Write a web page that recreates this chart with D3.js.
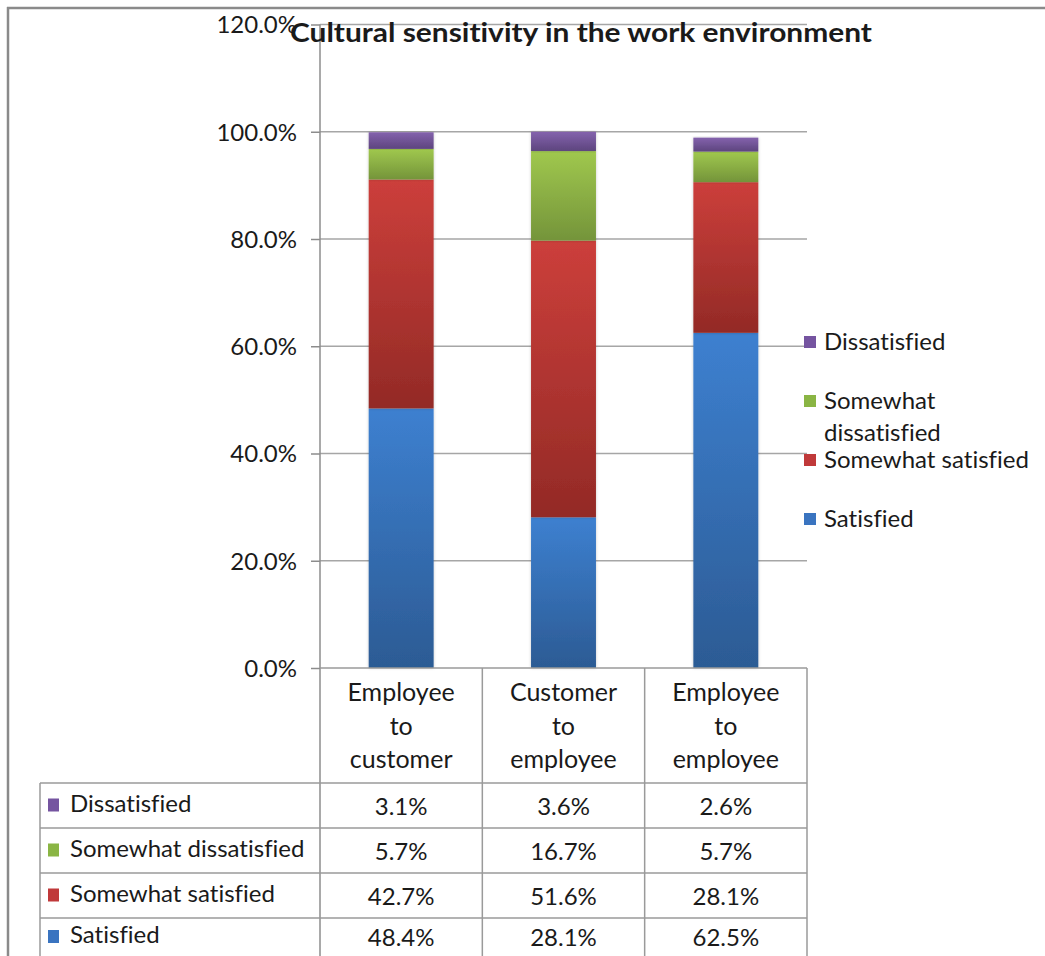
<!DOCTYPE html>
<html>
<head>
<meta charset="utf-8">
<script src="https://cdn.jsdelivr.net/npm/d3@7"></script>
<style>
  html, body { margin: 0; padding: 0; background: #fff; }
  svg { display: block; }
  text { font-family: Lato, "Open Sans", sans-serif; fill: #1a1a1a; font-variant-ligatures: none; }
</style>
</head>
<body>
<svg id="chart" width="1045" height="956"></svg>
<script>
// Survey data: share of responses per relationship
const categories = [
  ["Employee", "to", "customer"],
  ["Customer", "to", "employee"],
  ["Employee", "to", "employee"]
];
const categoryKeys = ["Employee to customer", "Customer to employee", "Employee to employee"];
const seriesNames = ["Satisfied", "Somewhat satisfied", "Somewhat dissatisfied", "Dissatisfied"];
const satisfied = [48.4, 28.1, 62.5];
const somewhatSatisfied = [42.7, 51.6, 28.1];
const somewhatDissatisfied = [5.7, 16.7, 5.7];
const dissatisfied = [3.1, 3.6, 2.6];
const yTicks = [0, 20, 40, 60, 80, 100, 120];

const seriesValues = [satisfied, somewhatSatisfied, somewhatDissatisfied, dissatisfied];
const colors = {
  "Satisfied": ["#3d80d0", "#2c5b94"],
  "Somewhat satisfied": ["#cc3f3b", "#932a26"],
  "Somewhat dissatisfied": ["#a0c84e", "#74943a"],
  "Dissatisfied": ["#8462ad", "#5d457e"]
};
const swatch = {
  "Satisfied": "#3a74c0",
  "Somewhat satisfied": "#c0393a",
  "Somewhat dissatisfied": "#8ab544",
  "Dissatisfied": "#7554a0"
};

const rows = categoryKeys.map((k, i) => {
  const r = { key: k };
  seriesNames.forEach((s, j) => r[s] = seriesValues[j][i]);
  return r;
});

const svg = d3.select("#chart");
const defs = svg.append("defs");
seriesNames.forEach((s, i) => {
  const g = defs.append("linearGradient")
    .attr("id", "grad" + i).attr("x1", 0).attr("y1", 0).attr("x2", 0).attr("y2", 1);
  g.append("stop").attr("offset", "0%").attr("stop-color", colors[s][0]);
  g.append("stop").attr("offset", "100%").attr("stop-color", colors[s][1]);
});
const shadow = defs.append("filter").attr("id", "shadow")
  .attr("x", "-20%").attr("y", "-5%").attr("width", "140%").attr("height", "110%");
shadow.append("feDropShadow").attr("dx", 0).attr("dy", 0).attr("stdDeviation", 1.6)
  .attr("flood-color", "#000").attr("flood-opacity", 0.22);

// Outer frame
svg.append("line").attr("x1", 7).attr("x2", 1045).attr("y1", 8).attr("y2", 8)
  .attr("stroke", "#8a8a8a").attr("stroke-width", 2.5);
svg.append("line").attr("x1", 8).attr("x2", 8).attr("y1", 7).attr("y2", 956)
  .attr("stroke", "#8a8a8a").attr("stroke-width", 2.5);

const plotLeft = 320, plotRight = 807;
const x = d3.scaleBand().domain(categoryKeys).range([plotLeft, plotRight]).paddingInner(0).paddingOuter(0);
const y = d3.scaleLinear().domain([0, 120]).range([668, 24.5]);

// Gridlines
svg.append("g").selectAll("line").data(yTicks.filter(t => t > 0)).join("line")
  .attr("x1", plotLeft).attr("x2", plotRight)
  .attr("y1", d => y(d)).attr("y2", d => y(d))
  .attr("stroke", "#a6a6a6").attr("stroke-width", 1.5);

// Y axis
const yAxis = d3.axisLeft(y).tickValues(yTicks).tickSize(9).tickPadding(14)
  .tickFormat(d => d.toFixed(1) + "%");
const yg = svg.append("g").attr("transform", `translate(${plotLeft},0)`).call(yAxis);
yg.select(".domain").remove();
yg.selectAll(".tick line").attr("stroke", "#8c8c8c").attr("stroke-width", 1.5);
yg.selectAll(".tick text").attr("font-size", 24).attr("fill", "#1a1a1a")
  .attr("font-family", "Lato, sans-serif").attr("dy", "0.35em");
svg.append("line").attr("x1", plotLeft).attr("x2", plotLeft).attr("y1", y(120)).attr("y2", 956)
  .attr("stroke", "#8c8c8c").attr("stroke-width", 1.5);

// Stacked bars
const stack = d3.stack().keys(seriesNames)(rows);
const barW = x.bandwidth() * 0.4;
svg.append("g").selectAll("g").data(stack).join("g")
  .attr("fill", (d, i) => `url(#grad${i})`)
  .selectAll("rect").data(d => d).join("rect")
  .attr("x", d => x(d.data.key) + (x.bandwidth() - barW) / 2)
  .attr("width", barW)
  .attr("y", d => y(d[1]))
  .attr("height", d => y(d[0]) - y(d[1]))
  .attr("filter", "url(#shadow)");

// Data table
const tableLeft = 40;
const headerTop = 668, rowTops = [783, 828, 873, 918], rowBottom = 963;
const tableLines = svg.append("g").attr("stroke", "#9a9a9a").attr("stroke-width", 1.5);
tableLines.append("line").attr("x1", plotLeft).attr("x2", plotRight).attr("y1", headerTop).attr("y2", headerTop);
rowTops.forEach(t => tableLines.append("line").attr("x1", tableLeft).attr("x2", plotRight).attr("y1", t).attr("y2", t));
tableLines.append("line").attr("x1", tableLeft).attr("x2", tableLeft).attr("y1", rowTops[0]).attr("y2", rowBottom);
categoryKeys.forEach(k => {
  tableLines.append("line").attr("x1", x(k) + x.bandwidth()).attr("x2", x(k) + x.bandwidth())
    .attr("y1", headerTop).attr("y2", rowBottom);
});

// Column headers
categoryKeys.forEach((k, i) => {
  const t = svg.append("text").attr("x", x(k) + x.bandwidth() / 2).attr("y", 701)
    .attr("text-anchor", "middle").attr("font-size", 25);
  categories[i].forEach((line, j) => {
    t.append("tspan").attr("x", x(k) + x.bandwidth() / 2).attr("y", 701 + j * 33.5).text(line);
  });
});

// Table rows, top to bottom: Dissatisfied ... Satisfied
const tableOrder = seriesNames.slice().reverse();
tableOrder.forEach((s, r) => {
  const mid = (rowTops[r] + (rowTops[r + 1] || rowBottom - 7)) / 2;
  svg.append("rect").attr("x", 48).attr("y", mid - 7).attr("width", 11).attr("height", 13)
    .attr("fill", swatch[s]);
  svg.append("text").attr("x", 70).attr("y", mid - 2).attr("dy", "0.35em")
    .attr("font-size", 24).text(s);
  const vals = seriesValues[seriesNames.indexOf(s)];
  categoryKeys.forEach((k, i) => {
    svg.append("text").attr("x", x(k) + x.bandwidth() / 2).attr("y", mid + 1).attr("dy", "0.35em")
      .attr("text-anchor", "middle").attr("font-size", 24).text(vals[i].toFixed(1) + "%");
  });
});

// Legend
const legendItems = [
  { name: "Dissatisfied", lines: ["Dissatisfied"], y: 342 },
  { name: "Somewhat dissatisfied", lines: ["Somewhat", "dissatisfied"], y: 401 },
  { name: "Somewhat satisfied", lines: ["Somewhat satisfied"], y: 460 },
  { name: "Satisfied", lines: ["Satisfied"], y: 519 }
];
const lg = svg.append("g");
legendItems.forEach(it => {
  lg.append("rect").attr("x", 804).attr("y", it.y - 6).attr("width", 12).attr("height", 12)
    .attr("fill", swatch[it.name]);
  const t = lg.append("text").attr("font-size", 24);
  it.lines.forEach((l, j) => {
    t.append("tspan").attr("x", 824).attr("y", it.y + j * 32).attr("dy", "0.35em").text(l);
  });
});

// Title
svg.append("text").attr("x", 581).attr("y", 42).attr("text-anchor", "middle")
  .attr("font-size", 26).attr("font-weight", "bold")
  .attr("textLength", 582).attr("lengthAdjust", "spacingAndGlyphs")
  .text("Cultural sensitivity in the work environment");
</script>
</body>
</html>
